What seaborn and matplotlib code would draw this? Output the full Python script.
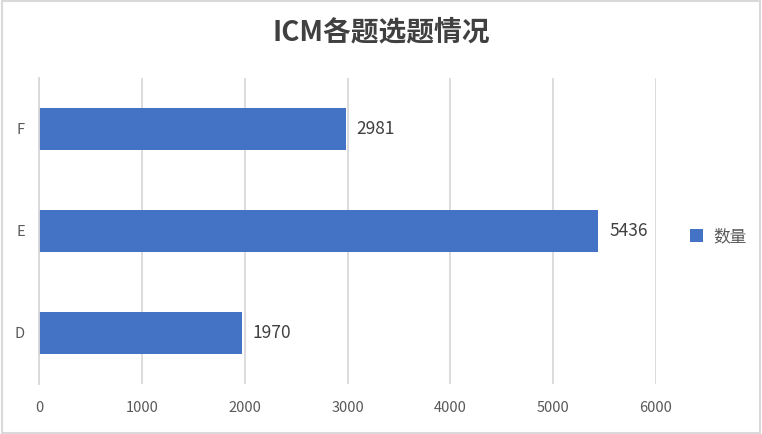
"""ICM topic selection counts as a horizontal bar chart."""

import matplotlib

matplotlib.use("Agg")
import matplotlib.pyplot as plt
import pandas as pd
import seaborn as sns
from matplotlib.patches import Patch, Rectangle

categories = ["F", "E", "D"]
counts = [2981, 5436, 1970]
x_ticks = [0, 1000, 2000, 3000, 4000, 5000, 6000]
series_name = "数量"

BAR_COLOR = "#4472C4"
GRID_COLOR = "#D9D9D9"
TICK_COLOR = "#595959"

sns.set_theme(style="white")
plt.rcParams["font.family"] = ["Noto Sans CJK SC", "DejaVu Sans"]

data = pd.DataFrame({"category": categories, "count": counts})

fig = plt.figure(figsize=(7.62, 4.34), dpi=100)
ax = fig.add_axes([39 / 762, 50 / 434, 617 / 762, 306 / 434])

sns.barplot(
    data=data,
    x="count",
    y="category",
    order=categories,
    color=BAR_COLOR,
    saturation=1,
    width=0.42,
    orient="h",
    linewidth=0,
    legend=False,
    ax=ax,
)

ax.set_xlim(0, 6000)
ax.set_xticks(x_ticks)
ax.set_xticklabels([str(t) for t in x_ticks])
ax.grid(True, axis="x", color=GRID_COLOR, linewidth=1.3)
ax.set_axisbelow(True)
for side in ["top", "right", "bottom"]:
    ax.spines[side].set_visible(False)
ax.spines["left"].set_color(GRID_COLOR)
ax.spines["left"].set_linewidth(1.3)
ax.tick_params(axis="x", length=0, pad=12, labelsize=10.5, labelcolor=TICK_COLOR)
ax.tick_params(axis="y", length=0, pad=10, labelsize=10.5, labelcolor=TICK_COLOR)
ax.set_xlabel("")
ax.set_ylabel("")

for container in ax.containers:
    ax.bar_label(container, fmt="%d", padding=8, fontsize=12.5, color="#404040")

fig.text(0.5, 0.925, "ICM各题选题情况", ha="center", va="center",
         fontsize=20, fontweight="bold", color="#404040")

handle = Patch(facecolor=BAR_COLOR, edgecolor="none")
fig.legend([handle], [series_name], loc="center left",
           bbox_to_anchor=(675 / 762, 197 / 434),
           frameon=False, fontsize=12, handlelength=0.8, handleheight=0.8,
           handletextpad=0.6, labelcolor=TICK_COLOR)

fig.patches.append(Rectangle((0.002, 0.003), 0.996, 0.994, transform=fig.transFigure,
                             fill=False, edgecolor=GRID_COLOR, linewidth=1.5))

fig.savefig("out.png", dpi=100)
plt.close(fig)
